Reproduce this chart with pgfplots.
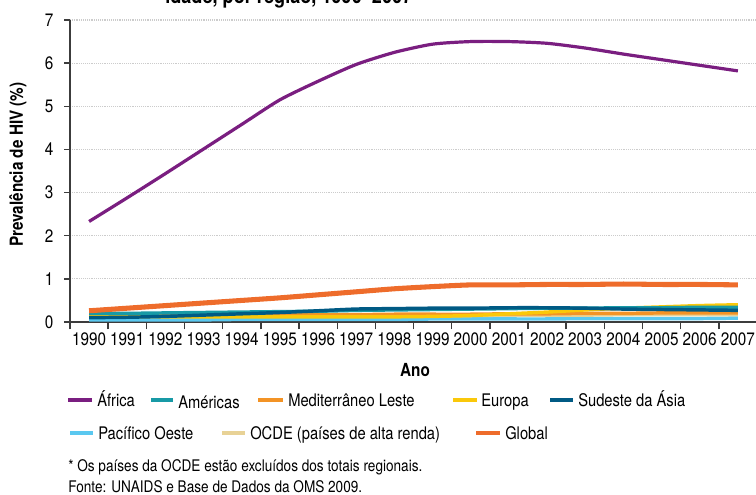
\documentclass[border=0pt]{standalone}
\usepackage{pgfplots}
\pgfplotsset{compat=1.18}
\usepackage{fontspec}
\setmainfont{TeX Gyre Heros}[FakeStretch=0.85]
\definecolor{cafrica}{RGB}{122,30,128}
\definecolor{camericas}{RGB}{24,154,166}
\definecolor{cmed}{RGB}{243,147,37}
\definecolor{ceuropa}{RGB}{250,200,10}
\definecolor{casia}{RGB}{0,90,132}
\definecolor{cpacifico}{RGB}{90,200,240}
\definecolor{cocde}{RGB}{232,210,150}
\definecolor{cglobal}{RGB}{238,108,43}
\definecolor{axisgray}{RGB}{60,60,60}

\pgfplotstableread{
year africa americas med europa asia pacifico ocde global
1990 2.33 0.20 0.17 0.15 0.10 0.05 0.13 0.26
1991 2.88 0.20 0.17 0.13 0.11 0.05 0.13 0.32
1992 3.44 0.21 0.17 0.12 0.13 0.05 0.13 0.38
1993 4.01 0.22 0.17 0.12 0.16 0.05 0.14 0.44
1994 4.58 0.23 0.17 0.12 0.19 0.06 0.14 0.50
1995 5.15 0.24 0.17 0.12 0.22 0.06 0.14 0.56
1996 5.58 0.25 0.17 0.12 0.26 0.06 0.14 0.63
1997 5.97 0.27 0.17 0.12 0.30 0.06 0.15 0.70
1998 6.25 0.28 0.18 0.12 0.31 0.06 0.15 0.77
1999 6.44 0.29 0.18 0.13 0.32 0.07 0.15 0.82
2000 6.50 0.30 0.18 0.15 0.32 0.07 0.15 0.86
2001 6.50 0.31 0.19 0.19 0.33 0.07 0.16 0.86
2002 6.46 0.32 0.19 0.23 0.33 0.07 0.16 0.87
2003 6.35 0.32 0.20 0.28 0.32 0.08 0.16 0.87
2004 6.21 0.33 0.20 0.32 0.30 0.08 0.17 0.88
2005 6.08 0.33 0.21 0.35 0.29 0.08 0.17 0.87
2006 5.95 0.34 0.21 0.38 0.28 0.08 0.17 0.87
2007 5.82 0.34 0.21 0.40 0.27 0.09 0.17 0.86
}\hivdata

\begin{document}
\begin{tikzpicture}
% page = 756x495 px, 1px = 0.75pt, origin at axis corner (70,322)
\useasboundingbox (-52.5pt,-129.75pt) rectangle (514.5pt,241.5pt);
\begin{axis}[
  at={(0,0)}, anchor=south west,
  scale only axis, width=515.25pt, height=226.5pt,
  xmin=1989.5, xmax=2007.5, ymin=0, ymax=7,
  axis x line*=bottom, axis y line*=left,
  axis line style={-, line width=1.1pt, color=axisgray},
  xtick={1990,...,2007},
  minor xtick={1989.5,1990.5,...,2006.5},
  ytick={0,...,7},
  tick align=outside, xtick align=outside, ytick align=outside,
  major tick length=4.5pt, minor tick length=5.5pt,
  every major x tick/.append style={draw=none},
  every minor x tick/.append style={line width=1pt, color=axisgray},
  every major y tick/.append style={line width=1pt, color=axisgray},
  ymajorgrids, grid style={densely dotted, line width=0.8pt, color=black!20},
  /pgf/number format/assume math mode=true,
  /pgf/number format/1000 sep={},
  tick label style={font=\fontsize{13.5}{16}\selectfont},
  yticklabel style={xshift=-4.5pt},
  clip=false,
  every axis plot/.append style={line width=2.6pt, smooth, tension=0.4},
]
\addplot[color=cpacifico] table[x=year, y=pacifico] {\hivdata};
\addplot[color=cocde] table[x=year, y=ocde] {\hivdata};
\addplot[color=cmed] table[x=year, y=med] {\hivdata};
\addplot[color=ceuropa] table[x=year, y=europa] {\hivdata};
\addplot[color=camericas] table[x=year, y=americas] {\hivdata};
\addplot[color=casia] table[x=year, y=asia] {\hivdata};
\addplot[color=cglobal, line width=3.8pt] table[x=year, y=global] {\hivdata};
\addplot[color=cafrica, line width=2.4pt] table[x=year, y=africa] {\hivdata};
\end{axis}

% title (only its last line shows at the top edge)
\node[anchor=base west, inner sep=0, font=\fontsize{16}{19}\selectfont\bfseries]
  at (71.25pt,238.5pt) {idade, por região, 1990–2007};
% axis titles
\node[rotate=90, inner sep=0, font=\fontsize{13.5}{16}\selectfont\bfseries]
  at (-39pt,118pt) {Prevalência de HIV (\%)};
\node[inner sep=0, font=\fontsize{13.5}{16}\selectfont\bfseries]
  at (258.75pt,-36pt) {Ano};

% legend
\begin{scope}[every node/.style={anchor=base west, inner sep=0, font=\fontsize{13}{16}\selectfont}]
\draw[cafrica, line width=2.8pt] (-1.5pt,-58.5pt) -- (16.5pt,-58.5pt);
\node at (20.25pt,-63.2pt) {África};
\draw[camericas, line width=2.8pt] (60.75pt,-58.5pt) -- (77.25pt,-58.5pt);
\node at (81pt,-65pt) {Américas};
\draw[cmed, line width=2.8pt] (141pt,-58.5pt) -- (159.75pt,-58.5pt);
\node at (163.5pt,-63.2pt) {Mediterrâneo Leste};
\draw[ceuropa, line width=2.8pt] (287.25pt,-58.5pt) -- (305.25pt,-58.5pt);
\node at (308.25pt,-63.2pt) {Europa};
\draw[casia, line width=2.8pt] (360pt,-58.5pt) -- (377.25pt,-58.5pt);
\node at (381pt,-63.2pt) {Sudeste da Ásia};
\draw[cpacifico, line width=2.8pt] (0pt,-83.25pt) -- (17.25pt,-83.25pt);
\node at (21pt,-88pt) {Pacífico Oeste};
\draw[cocde, line width=2.8pt] (114pt,-83.25pt) -- (131.25pt,-83.25pt);
\node at (135pt,-88pt) {OCDE (países de alta renda)};
\draw[cglobal, line width=3.6pt] (304.5pt,-83.25pt) -- (322.5pt,-83.25pt);
\node at (326.25pt,-88pt) {Global};
\end{scope}

% notes
\begin{scope}[every node/.style={anchor=base west, inner sep=0, font=\fontsize{12}{14}\selectfont}]
\node at (-1.5pt,-112pt) {* Os países da OCDE estão excluídos dos totais regionais.};
\node at (-1.5pt,-128pt) {Fonte: UNAIDS e Base de Dados da OMS 2009.};
\end{scope}
\end{tikzpicture}
\end{document}
